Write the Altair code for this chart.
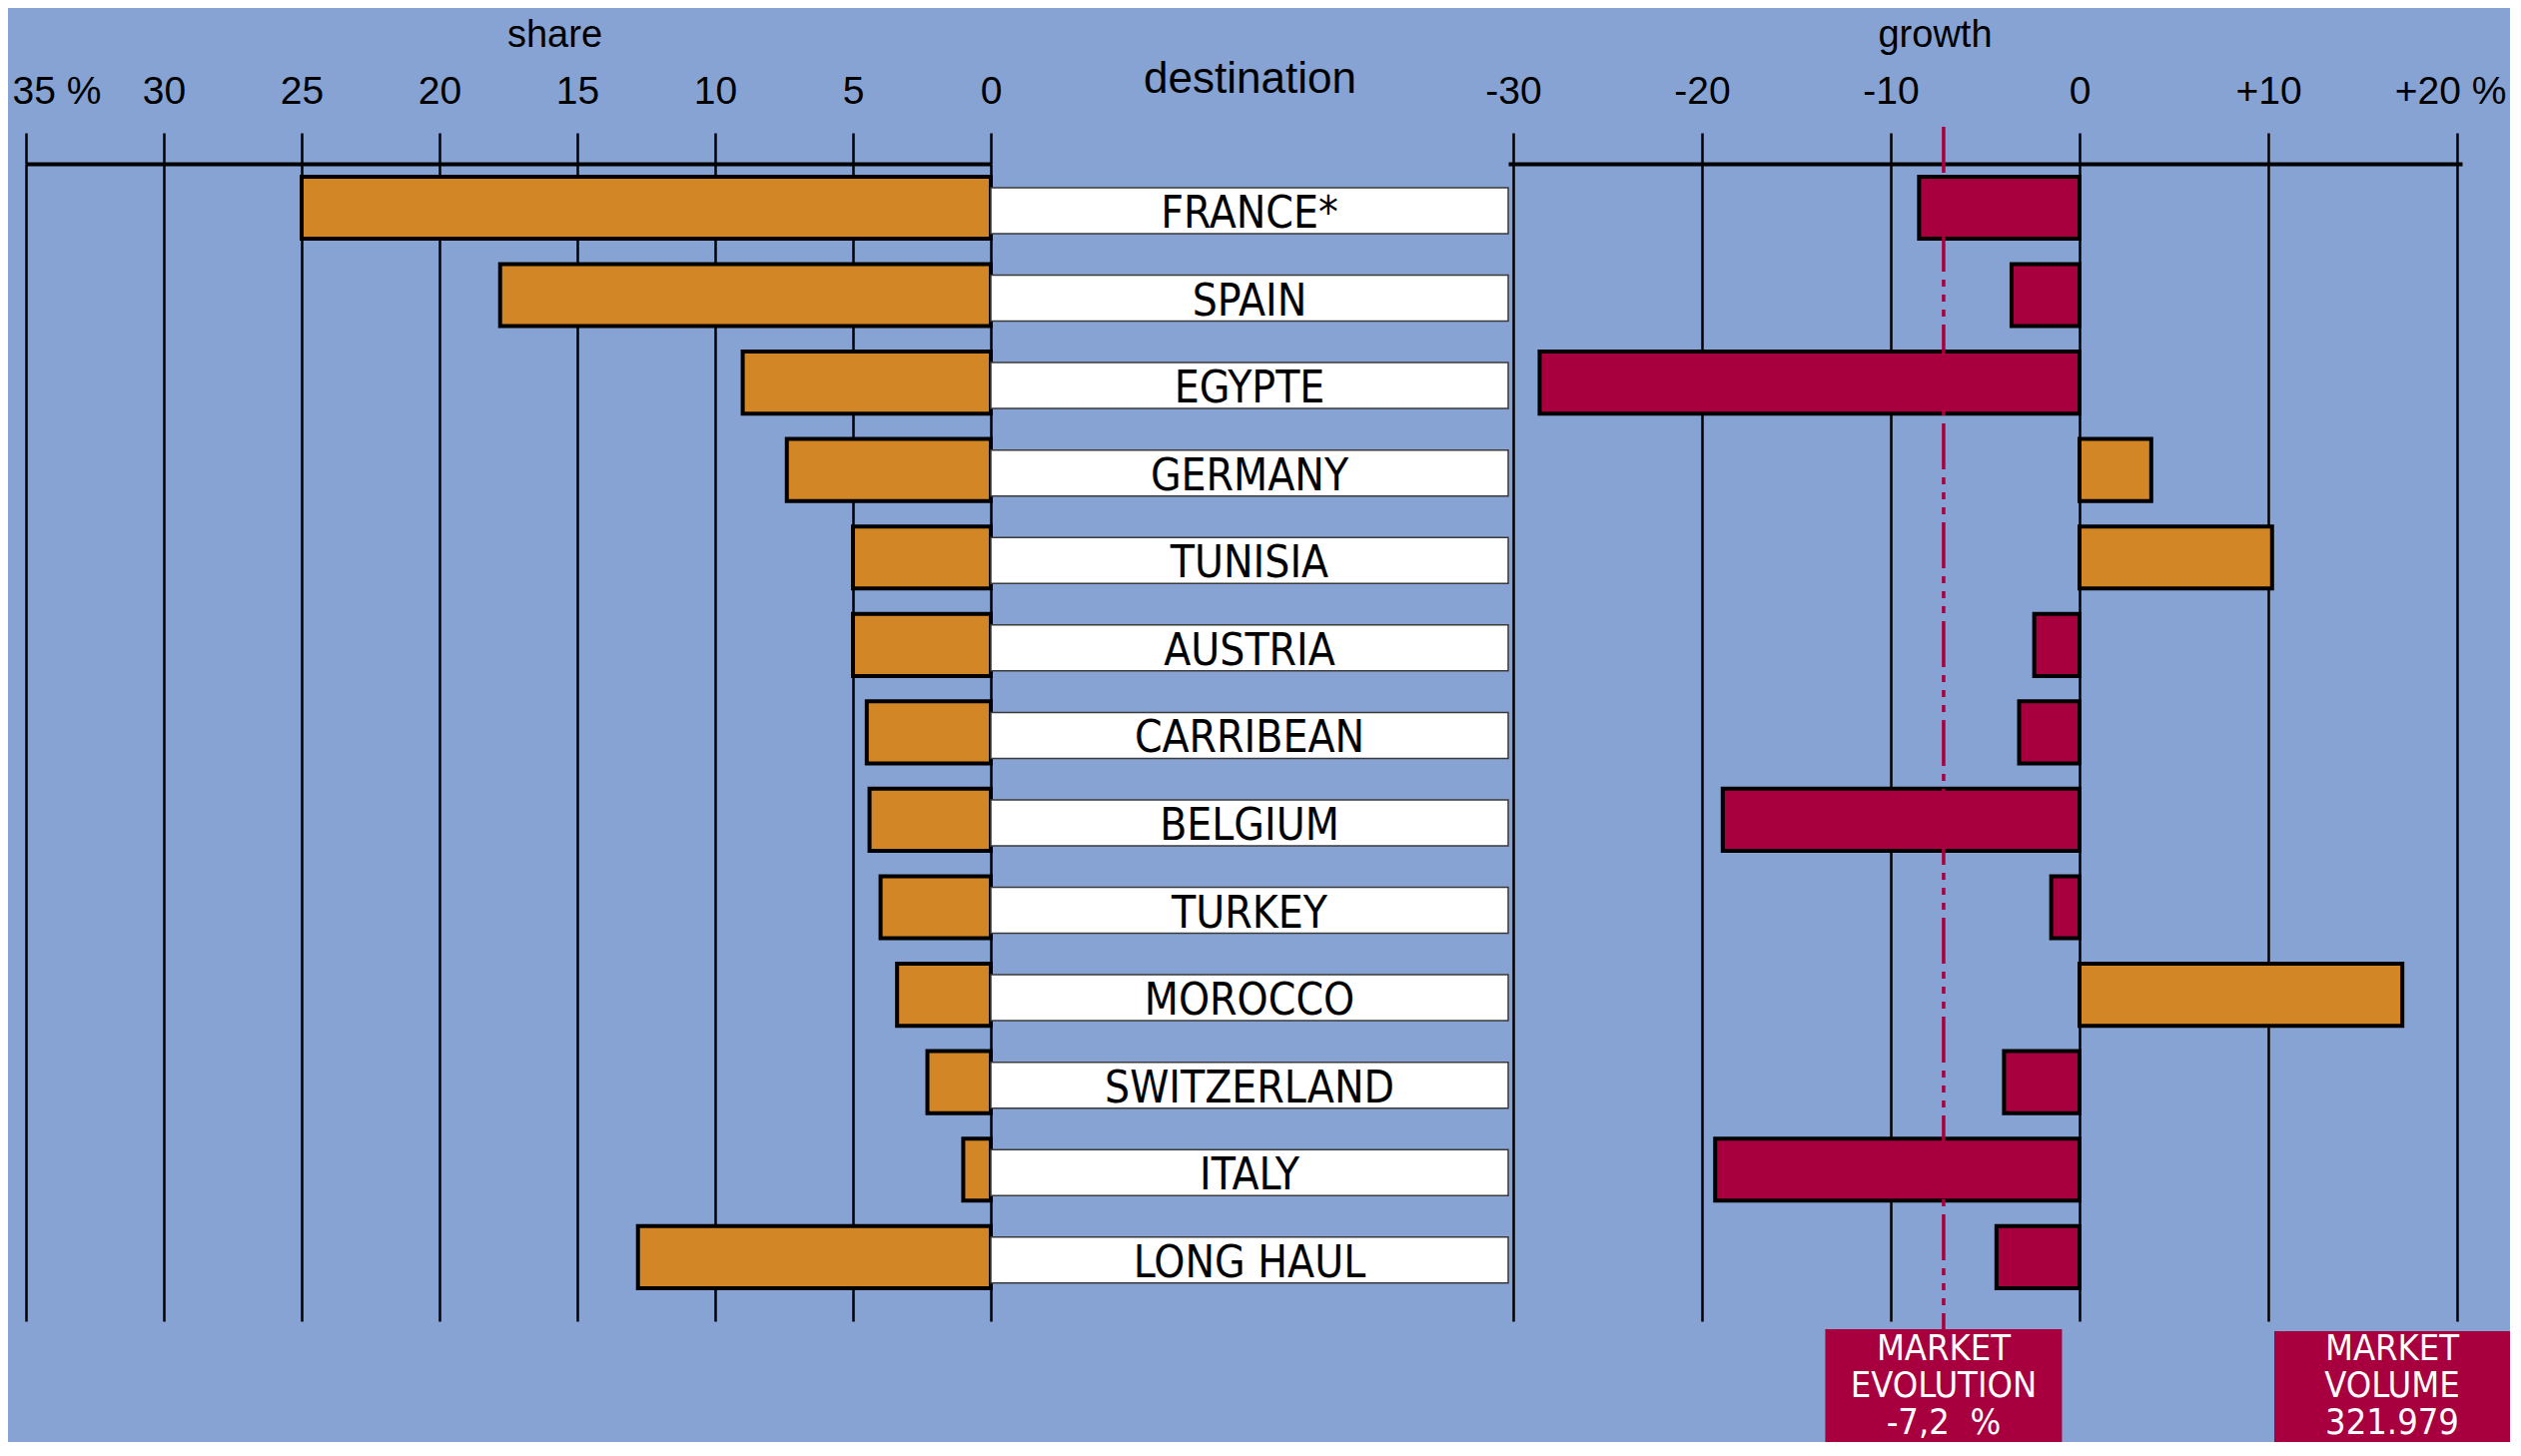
import altair as alt
import pandas as pd

# ---------------- data ----------------
destinations = ["FRANCE*", "SPAIN", "EGYPTE", "GERMANY", "TUNISIA", "AUSTRIA",
                "CARRIBEAN", "BELGIUM", "TURKEY", "MOROCCO", "SWITZERLAND",
                "ITALY", "LONG HAUL"]
share = [25.0, 17.8, 9.0, 7.4, 5.0, 5.0, 4.5, 4.4, 4.0, 3.4, 2.3, 1.0, 12.8]
growth = [-8.5, -3.6, -28.6, 3.8, 10.2, -2.4, -3.2, -18.9, -1.5, 17.1, -4.0, -19.3, -4.4]
share_ticks = [0, 5, 10, 15, 20, 25, 30, 35]
growth_ticks = [-30, -20, -10, 0, 10, 20]
market_evolution = -7.2
market_evolution_label = "-7,2\u00a0\u00a0%"
market_volume_label = "321.979"

# ---------------- styles ----------------
BG = "#86A3D3"
ORANGE = "#D38625"
CRIMSON = "#A8003F"
FONT = "Liberation Sans, Arial, sans-serif"
NARROW = "Liberation Sans Narrow, Arial Narrow, DejaVu Sans Condensed, sans-serif"

H = 1159
W_LEFT = 966
W_MID = 518
W_RIGHT = 955

df = pd.DataFrame({"destination": destinations, "share": share, "growth": growth})
df["zero"] = 0
df["one"] = 1
df["sign"] = ["pos" if g > 0 else "neg" for g in growth]

df_market = pd.DataFrame({"evolution": [market_evolution]})

yscale = alt.Scale(domain=destinations, paddingInner=0.29, paddingOuter=0.2626, align=0.28)
yenc = alt.Y("destination:N", sort=destinations, scale=yscale, axis=None)

common_axis = dict(
    orient="top", grid=True, gridColor="black", gridWidth=2.5,
    domainColor="black", domainWidth=4, tickColor="black", tickWidth=2.5,
    tickSize=31, labelPadding=30, labelFont=FONT, labelFontSize=39,
    labelColor="black", labelBaseline="alphabetic", labelFlush=False,
    labelOverlap=False,
    titleFont=FONT, titleFontSize=38, titleFontWeight="normal",
    titleColor="black", titleBaseline="alphabetic", titleAlign="center",
    titleY=-118,
)

# ---------------- left panel : share ----------------
left_axis = alt.Axis(
    values=share_ticks, title="share", titleX=529,
    labelExpr="datum.value == 35 ? '35 %' : datum.label",
    labelAlign=alt.condition("datum.value == 35", alt.value("left"), alt.value("center")),
    labelOffset=alt.condition("datum.value == 35", alt.value(-14), alt.value(0)),
    **common_axis,
)

left = alt.Chart(df).mark_bar(fill=ORANGE, stroke="black", strokeWidth=4).encode(
    x=alt.X("share:Q", scale=alt.Scale(domain=[0, 35], reverse=True, nice=False), axis=left_axis),
    x2=alt.X2("zero"),
    y=yenc,
).properties(width=W_LEFT, height=H)

# ---------------- middle panel : destination labels ----------------
mid_axis = alt.Axis(
    orient="top", labels=False, ticks=False, domain=False, grid=False,
    title="destination", titleX=259, titleY=-72, titleFont=FONT,
    titleFontSize=44, titleFontWeight="normal", titleColor="black",
    titleBaseline="alphabetic", titleAlign="center",
)

mid_boxes = alt.Chart(df).mark_bar(
    fill="white", stroke="#3a3a3a", strokeWidth=1.5, height=46, yOffset=3
).encode(
    x=alt.X("zero:Q", scale=alt.Scale(domain=[0, 1], nice=False), axis=mid_axis),
    x2=alt.X2("one"),
    y=yenc,
)
mid_text = alt.Chart(df).mark_text(
    font=NARROW, fontSize=44, color="black", baseline="alphabetic", dy=20, align="center"
).encode(
    x=alt.datum(0.5),
    y=yenc,
    text="destination:N",
)
middle = alt.layer(mid_boxes, mid_text).properties(width=W_MID, height=H)

# ---------------- right panel : growth ----------------
right_axis = alt.Axis(
    values=growth_ticks, title="growth", titleX=427,
    labelExpr="datum.value == 20 ? '+20 %' : (datum.value > 0 ? '+' + datum.value : '' + datum.value)",
    labelAlign=alt.condition("datum.value == 20", alt.value("right"), alt.value("center")),
    labelOffset=alt.condition("datum.value == 20", alt.value(49), alt.value(0)),
    **common_axis,
)
gscale = alt.Scale(domain=[-30, 20], nice=False)

right_bars = alt.Chart(df).mark_bar(stroke="black", strokeWidth=4).encode(
    x=alt.X("growth:Q", scale=gscale, axis=right_axis),
    x2=alt.X2("zero"),
    y=yenc,
    fill=alt.Fill("sign:N", scale=alt.Scale(domain=["pos", "neg"], range=[ORANGE, CRIMSON]), legend=None),
)

evo_rule = alt.Chart(df_market).mark_rule(
    color=CRIMSON, strokeWidth=3.5, strokeDash=[46, 8, 7, 8, 7, 8, 7, 8]
).encode(
    x=alt.X("evolution:Q", scale=gscale),
    y=alt.value(-37),
    y2=alt.value(1167),
)

evo_box = alt.Chart(df_market).mark_bar(fill=CRIMSON, width=237, orient="vertical").encode(
    x=alt.X("evolution:Q", scale=gscale),
    y=alt.value(1167),
    y2=alt.value(1280),
)
evo_text = alt.Chart(df_market).mark_text(
    font=NARROW, fontSize=36, color="white", baseline="alphabetic", align="center", lineHeight=37
).encode(
    x=alt.X("evolution:Q", scale=gscale),
    y=alt.value(1198),
    text=alt.value(["MARKET", "EVOLUTION", market_evolution_label]),
)

vol_box = alt.Chart(df_market).mark_rect(fill=CRIMSON).encode(
    x=alt.value(767), x2=alt.value(1003),
    y=alt.value(1169), y2=alt.value(1280),
)
vol_text = alt.Chart(df_market).mark_text(
    font=NARROW, fontSize=36, color="white", baseline="alphabetic", align="center", lineHeight=37
).encode(
    x=alt.value(885),
    y=alt.value(1198),
    text=alt.value(["MARKET", "VOLUME", market_volume_label]),
)

right = alt.layer(right_bars, evo_box, evo_text, vol_box, vol_text, evo_rule).properties(
    width=W_RIGHT, height=H
)

chart = alt.hconcat(
    left, middle, right, spacing=0, bounds="flush",
    padding={"left": 4, "top": 8, "right": 0, "bottom": 0},
).configure(background=BG).configure_view(stroke=None)

chart.save("out.html", embed_options={"renderer": "svg", "actions": False})
